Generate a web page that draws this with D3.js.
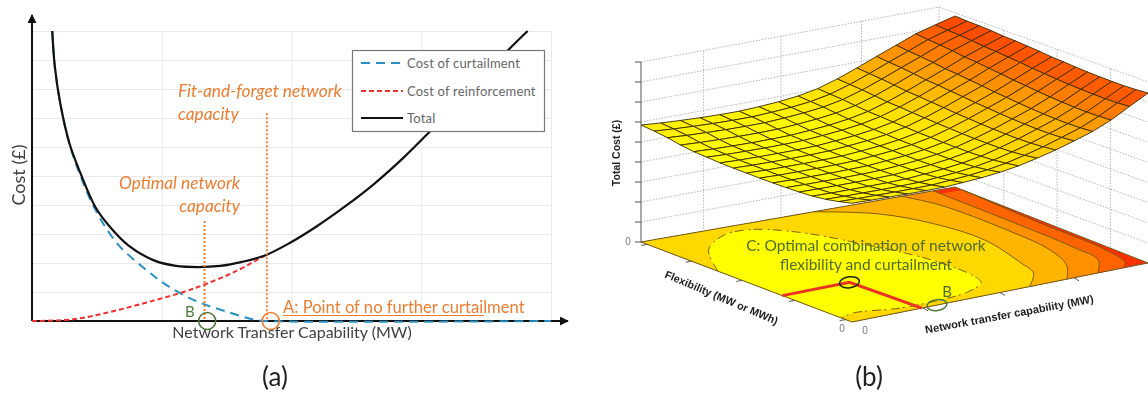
<!DOCTYPE html>
<html>
<head>
<meta charset="utf-8">
<script src="https://cdn.jsdelivr.net/npm/d3@7"></script>
<style>
    body { margin: 0; background: white; }
    svg { display: block; filter: blur(0.45px); }
    text { font-family: Lato, "Open Sans", sans-serif; }
</style>
</head>
<body>
<svg id="drawing_region" width="1148" height="395"></svg>
<script>
// panel (a): cost against network capability
var curtailment = [[0.156,10],[0.176,8.77],[0.218,7.5],[0.289,6.1],[0.374,5.0],[0.487,3.85],[0.657,2.67],[0.884,1.75],[1.05,1.2],[1.28,0.66],[1.51,0.31],[1.705,0.05],[1.8,0],[4,0]];
var reinforcement = [[0,0],[0.317,0.06],[0.6,0.31],[0.884,0.64],[1.167,1.0],[1.337,1.27],[1.564,1.7],[1.8,2.27]];
var total = [[0.156,10],[0.176,8.77],[0.218,7.5],[0.289,6.12],[0.374,5.09],[0.487,3.94],[0.6,3.25],[0.742,2.61],[0.94,2.09],[1.11,1.9],[1.28,1.86],[1.45,1.9],[1.62,2.04],[1.8,2.27],[1.99,2.7],[2.19,3.25],[2.41,3.94],[2.64,4.74],[2.87,5.66],[3.09,6.64],[3.38,7.96],[3.67,9.34],[3.82,10]];
var legendLabels = ['Cost of curtailment', 'Cost of reinforcement', 'Total'];
var optimalCapacity = 1.33, optimalTop = 3.45;
var fitForgetCapacity = 1.81, fitForgetTop = 7.16;
var pointB = 1.35, pointA = 1.84;

// panel (b): surface profiles read along its edges (17 mesh lines each way)
var costByCapability = [0.66,0.656,0.653,0.65,0.648,0.647,0.652,0.658,0.668,0.683,0.705,0.73,0.76,0.792,0.835,0.89,0.944];
var costByFlexibility = [0,-0.019,-0.034,-0.044,-0.049,-0.052,-0.054,-0.055,-0.055,-0.055,-0.054,-0.05,-0.047,-0.038,-0.025,-0.016,-0.01];
var backEdgeLift = [0,-0.005,-0.008,-0.01,-0.011,-0.011,-0.011,-0.01,-0.008,-0.002,0.01,0.026,0.04,0.05,0.05,0.025,0];
var sideEdgeLift = [0,0.012,0.022,0.03,0.034,0.037,0.04,0.044,0.045,0.05,0.051,0.05,0.047,0.042,0.03,0.02,0.016];
var meshLines = d3.range(17).map(i => i / 16);

// contour rings on the floor as [capability, flexibility], outermost first
var ring1 = [[1,0.96],[0.986,0.54],[0.98,0.18],[0.95,0.04],[0.915,0]];
var ring2 = [[0.93,1],[0.93,0.62],[0.923,0.27],[0.905,0.11],[0.83,0]];
var ring3 = [[0.83,1],[0.866,0.86],[0.873,0.53],[0.855,0.28],[0.805,0.12],[0.726,0]];
var ring4 = [[0.55,1],[0.68,0.88],[0.745,0.71],[0.767,0.48],[0.717,0.22],[0.687,0.11],[0.6,0]];
var ringYellow = [[0,0.635],[0.102,0.83],[0.214,0.93],[0.305,0.943],[0.4,0.844],[0.47,0.654],[0.535,0.39],[0.535,0.173],[0.513,0.112],[0.43,0.058],[0.323,0.037],[0.188,0.036],[0.055,0.072],[0,0.05]];
var floorColors = ['#ff3000', '#ff6400', '#ff9000', '#ffb400', '#ffd800', '#ffff00'];
var optimalPath = [[0,0.33],[0.225,0.334],[0.236,0]];
var pointC = [0.225,0.334], pointB3d = [0.287,0];

var zTicks = d3.range(10);
var floorTicksFlex = [0.03,0.27,0.52,0.76,0.97];
var floorTicksCap = [0.24,0.5,0.75];
var leftWallTicks = [0.21,0.47,0.74];
var rightWallTicks = [0.31,0.565,0.82];

var svg = d3.select('#drawing_region');

// ---------- panel (a) ----------
var x = d3.scaleLinear().domain([0, 4]).range([32, 551]);
var y = d3.scaleLinear().domain([0, 10]).range([321, 31]);

svg.append('defs').append('marker')
    .attr('id', 'arrow').attr('viewBox', '0 0 10 10')
    .attr('refX', 9).attr('refY', 5)
    .attr('markerWidth', 9).attr('markerHeight', 9)
    .attr('markerUnits', 'userSpaceOnUse')
    .attr('orient', 'auto')
    .append('path').attr('d', 'M0,0L10,5L0,10z').attr('fill', '#111');

var gridY = svg.append('g').attr('transform', 'translate(32,0)')
    .call(d3.axisLeft(y).ticks(10).tickSize(-519).tickFormat(''));
var gridX = svg.append('g').attr('transform', 'translate(0,31)')
    .call(d3.axisBottom(x).ticks(4).tickSize(290).tickFormat(''));
[gridX, gridY].forEach(g => {
    g.select('.domain').remove();
    g.selectAll('line').attr('stroke', '#e9e9e9').attr('stroke-width', 1);
});

var line2d = d3.line().x(d => x(d[0])).y(d => y(d[1])).curve(d3.curveCatmullRom);

// axes
svg.append('line').attr('x1', 32).attr('y1', y(0)).attr('x2', 568).attr('y2', y(0))
    .attr('stroke', '#111').attr('stroke-width', 2).attr('marker-end', 'url(#arrow)');
svg.append('line').attr('x1', 32).attr('y1', y(0)).attr('x2', 32).attr('y2', 15)
    .attr('stroke', '#111').attr('stroke-width', 2).attr('marker-end', 'url(#arrow)');

var curveStyle = [
    { data: curtailment, color: '#2a8fc0', dash: '9,6', width: 2 },
    { data: reinforcement, color: '#ee3030', dash: '5,3', width: 2 },
    { data: total, color: '#111', dash: null, width: 2.2 }
];
curveStyle.forEach(c => {
    svg.append('path').attr('d', line2d(c.data))
        .attr('fill', 'none').attr('stroke', c.color)
        .attr('stroke-width', c.width).attr('stroke-dasharray', c.dash);
});

// guide lines up from the two capacities
[[optimalCapacity, optimalTop], [fitForgetCapacity, fitForgetTop]].forEach(d => {
    svg.append('line').attr('x1', x(d[0])).attr('x2', x(d[0]))
        .attr('y1', y(d[1])).attr('y2', y(0))
        .attr('stroke', '#ed7d31').attr('stroke-width', 2).attr('stroke-dasharray', '2,2');
});
svg.append('circle').attr('cx', x(pointB)).attr('cy', y(0)).attr('r', 8.5)
    .attr('fill', 'none').attr('stroke', '#4f7a3a').attr('stroke-width', 1.6);
svg.append('circle').attr('cx', x(pointA)).attr('cy', y(0)).attr('r', 8.5)
    .attr('fill', 'none').attr('stroke', '#ed7d31').attr('stroke-width', 1.6);

// legend
var legend = svg.append('g');
legend.append('rect').attr('x', 352.5).attr('y', 50.5).attr('width', 192).attr('height', 81)
    .attr('fill', 'white').attr('stroke', '#777').attr('stroke-width', 1.2);
legendLabels.forEach((label, i) => {
    var ly = [63, 91, 118][i];
    legend.append('line').attr('x1', 361).attr('x2', 403).attr('y1', ly).attr('y2', ly)
        .attr('stroke', curveStyle[i].color).attr('stroke-width', curveStyle[i].width)
        .attr('stroke-dasharray', curveStyle[i].dash);
    legend.append('text').attr('x', 407).attr('y', ly + 4.5)
        .attr('fill', '#666').style('font-size', '13px').style('letter-spacing', '0.2px').text(label);
});

function label(text, px, py, size, color, opts) {
    opts = opts || {};
    return svg.append('text').attr('x', px).attr('y', py)
        .attr('text-anchor', opts.anchor || 'start')
        .attr('fill', color)
        .attr('transform', opts.rotate ? `rotate(${opts.rotate},${px},${py})` : null)
        .style('font-size', size + 'px')
        .style('font-style', opts.italic ? 'italic' : null)
        .style('font-weight', opts.bold ? 'bold' : null)
        .style('font-family', opts.family || null)
        .text(text);
}

label('Cost (£)', 25, 175, 18, '#404040', { anchor: 'middle', rotate: -90 });
label('Network Transfer Capability (MW)', 292, 338, 16, '#404040', { anchor: 'middle' });
label('Fit-and-forget network', 178, 97, 17.3, '#ed7d31', { italic: true });
label('capacity', 178, 120, 17.3, '#ed7d31', { italic: true });
label('Optimal network', 240, 189, 17.3, '#ed7d31', { italic: true, anchor: 'end' });
label('capacity', 240, 212, 17.3, '#ed7d31', { italic: true, anchor: 'end' });
label('A: Point of no further curtailment', 283, 313, 16.6, '#ed7d31');
svg.append('line').attr('x1', 283).attr('x2', 484).attr('y1', 315.5).attr('y2', 315.5)
    .attr('stroke', '#ed7d31').attr('stroke-width', 1);
label('B', 185, 317, 15, '#4f7a3a');
label('(a)', 275, 386, 26, '#222', { anchor: 'middle' });

// ---------- panel (b) ----------
var cornerF = [852, 322], cornerL = [641, 242], cornerR = [1148, 263], cornerB = [955, 187];
var nearEdge = d3.scaleLinear().domain([0, 1]).range([cornerF, cornerR]);
var farEdge = d3.scaleLinear().domain([0, 1]).range([cornerL, cornerB]);
var height3d = d3.scaleLinear().domain([0, 1]).range([0, 180]);

function floorPoint(u, v) {
    return d3.scaleLinear().domain([0, 1]).range([nearEdge(u), farEdge(u)])(v);
}
function project(u, v, z) {
    var p = floorPoint(u, v);
    return [p[0], p[1] - height3d(z)];
}
var line3d = d3.line().x(d => floorPoint(d[0], d[1])[0]).y(d => floorPoint(d[0], d[1])[1]);
var ringLine = line3d.curve(d3.curveCatmullRom);

// box walls
var wallBackTop = [939, 7], wallBackBase = [939, 187], wallLeftTop = [641, 62], wallRightTop = [1148, 82];
var walls = svg.append('g').attr('fill', 'none').attr('stroke', '#b4b4b4')
    .attr('stroke-width', 1).attr('stroke-dasharray', '1.5,1.5');
var zLeft = d3.scaleLinear().domain([0, 9]).range([cornerL[1], wallLeftTop[1]]);
var zBack = d3.scaleLinear().domain([0, 9]).range([wallBackBase[1], wallBackTop[1]]);
var zRight = d3.scaleLinear().domain([0, 9]).range([cornerR[1], wallRightTop[1]]);
zTicks.slice(1).forEach(t => {
    walls.append('path').attr('d', d3.line()([[cornerL[0], zLeft(t)], [wallBackTop[0], zBack(t)], [cornerR[0], zRight(t)]]));
});
var leftWallX = d3.scaleLinear().domain([0, 1]).range([cornerL[0], wallBackTop[0]]);
var rightWallX = d3.scaleLinear().domain([0, 1]).range([wallBackTop[0], cornerR[0]]);
var leftTopY = d3.scaleLinear().domain([0, 1]).range([wallLeftTop[1], wallBackTop[1]]);
var leftBaseY = d3.scaleLinear().domain([0, 1]).range([cornerL[1], wallBackBase[1]]);
var rightTopY = d3.scaleLinear().domain([0, 1]).range([wallBackTop[1], wallRightTop[1]]);
var rightBaseY = d3.scaleLinear().domain([0, 1]).range([wallBackBase[1], cornerR[1]]);
leftWallTicks.forEach(t => {
    walls.append('line').attr('x1', leftWallX(t)).attr('x2', leftWallX(t))
        .attr('y1', leftTopY(t)).attr('y2', leftBaseY(t));
});
rightWallTicks.forEach(t => {
    walls.append('line').attr('x1', rightWallX(t)).attr('x2', rightWallX(t))
        .attr('y1', rightTopY(t)).attr('y2', rightBaseY(t));
});
walls.append('line').attr('x1', wallBackTop[0]).attr('x2', wallBackTop[0])
    .attr('y1', wallBackTop[1]).attr('y2', wallBackBase[1]);

// contour floor
var floor = svg.append('g');
var corners = [cornerF, cornerR, cornerB, cornerL];
floor.append('path').attr('d', d3.line()(corners) + 'Z').attr('fill', floorColors[0]);
[ring1, ring2, ring3, ring4].forEach((ring, i) => {
    var shape = ringLine(ring) + `L${cornerF[0]},${cornerF[1]}L${cornerL[0]},${cornerL[1]}Z`;
    floor.append('path').attr('d', shape).attr('fill', floorColors[i + 1]);
    floor.append('path').attr('d', ringLine(ring)).attr('fill', 'none')
        .attr('stroke', '#6e5200').attr('stroke-width', 0.9);
});
floor.append('path').attr('d', ringLine(ringYellow) + 'Z').attr('fill', floorColors[5]);
floor.append('path').attr('d', ringLine(ringYellow)).attr('fill', 'none')
    .attr('stroke', '#6e5200').attr('stroke-width', 0.9).attr('stroke-dasharray', '9,5,2,3');
floor.append('path').attr('d', d3.line()(corners) + 'Z')
    .attr('fill', 'none').attr('stroke', '#6e5a20').attr('stroke-width', 1);

// surface mesh, back cells first
var surfaceColor = d3.scaleLinear()
    .domain([0.6, 0.68, 0.8, 0.95])
    .range(['#ffff00', '#ffe000', '#ffa000', '#ff4000']);
function cost(i, j) {
    return costByCapability[i] + costByFlexibility[j] + backEdgeLift[i] * meshLines[j] + sideEdgeLift[j] * meshLines[i];
}
var cells = [];
for (var i = 15; i >= 0; i--) {
    for (var j = 15; j >= 0; j--) {
        cells.push({ i: i, j: j });
    }
}
var cellPoints = c => [[c.i, c.j], [c.i + 1, c.j], [c.i + 1, c.j + 1], [c.i, c.j + 1]]
    .map(k => project(meshLines[k[0]], meshLines[k[1]], cost(k[0], k[1])));
svg.append('g').selectAll('path').data(cells).join('path')
    .attr('d', c => d3.line()(cellPoints(c)) + 'Z')
    .attr('fill', c => surfaceColor(d3.mean([cost(c.i, c.j), cost(c.i + 1, c.j), cost(c.i + 1, c.j + 1), cost(c.i, c.j + 1)])))
    .attr('stroke', '#3a2a00').attr('stroke-width', 0.9).attr('stroke-linejoin', 'round');

// z axis and floor ticks
svg.append('line').attr('x1', cornerL[0]).attr('x2', cornerL[0])
    .attr('y1', zLeft(0)).attr('y2', zLeft(9)).attr('stroke', '#555').attr('stroke-width', 1);
zTicks.forEach(t => {
    svg.append('line').attr('x1', cornerL[0] - 6).attr('x2', cornerL[0])
        .attr('y1', zLeft(t)).attr('y2', zLeft(t)).attr('stroke', '#555');
});
floorTicksFlex.forEach(t => {
    var p = floorPoint(0, t);
    svg.append('line').attr('x1', p[0]).attr('x2', p[0] - 6).attr('y1', p[1]).attr('y2', p[1] + 1)
        .attr('stroke', '#555');
});
floorTicksCap.forEach(t => {
    var p = floorPoint(t, 0);
    svg.append('line').attr('x1', p[0]).attr('x2', p[0] + 5).attr('y1', p[1]).attr('y2', p[1] + 3)
        .attr('stroke', '#555');
});

// optimum marker
svg.append('path').attr('d', line3d.curve(d3.curveLinear)(optimalPath))
    .attr('fill', 'none').attr('stroke', '#ea3323').attr('stroke-width', 3);
var pc = floorPoint(pointC[0], pointC[1]), pb = floorPoint(pointB3d[0], pointB3d[1]);
svg.append('ellipse').attr('cx', pc[0]).attr('cy', pc[1]).attr('rx', 10).attr('ry', 5.5)
    .attr('transform', `rotate(-8,${pc[0]},${pc[1]})`)
    .attr('fill', 'none').attr('stroke', '#1c2a10').attr('stroke-width', 1.5);
svg.append('ellipse').attr('cx', pb[0]).attr('cy', pb[1]).attr('rx', 10).attr('ry', 5.5)
    .attr('transform', `rotate(-8,${pb[0]},${pb[1]})`)
    .attr('fill', 'none').attr('stroke', '#4f7a3a').attr('stroke-width', 1.5);

label('C: Optimal combination of network', 866, 251, 15.5, '#4d6b2c', { anchor: 'middle' });
label('flexibility and curtailment', 866, 270, 15.5, '#4d6b2c', { anchor: 'middle' });
label('B', 947, 297, 15, '#4d6b2c', { anchor: 'middle' });

var sans = '"Liberation Sans", sans-serif';
label('Total Cost (£)', 620, 153, 10.5, '#222', { anchor: 'middle', rotate: -90, bold: true, family: sans });
label('Flexibility (MW or MWh)', 720, 301, 10.8, '#222', { anchor: 'middle', rotate: 23, bold: true, family: sans });
label('Network transfer capability (MW)', 1010, 318, 11, '#222', { anchor: 'middle', rotate: -10.5, bold: true, family: sans });
label('0', 628, 245, 10, '#777', { anchor: 'middle', family: sans });
label('0', 842, 332, 10, '#777', { anchor: 'middle', family: sans });
label('0', 865, 334, 10, '#777', { anchor: 'middle', family: sans });
label('(b)', 869, 386, 26, '#222', { anchor: 'middle' });
</script>
</body>
</html>
